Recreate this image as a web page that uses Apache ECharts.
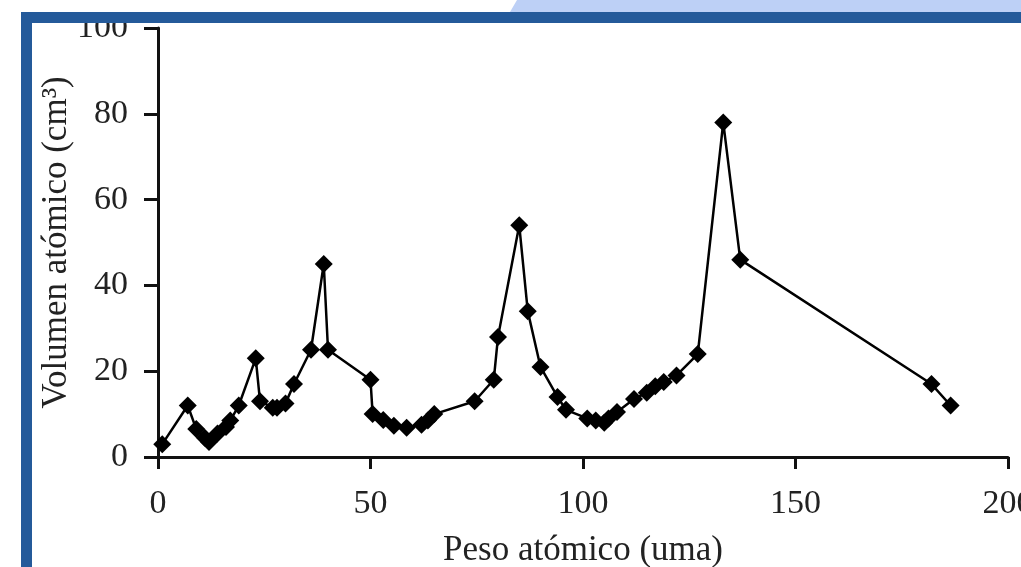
<!DOCTYPE html>
<html>
<head>
<meta charset="utf-8">
<script src="https://cdn.jsdelivr.net/npm/echarts@6/dist/echarts.min.js"></script>
<style>
html,body{margin:0;padding:0;background:#fff;}
#chart{width:1021px;height:567px;}
</style>
</head>
<body>
<div id="chart"></div>
<script>
const pesoAtomico = [1, 7, 9, 11, 12, 14, 16, 17, 19, 23, 24, 27, 28, 30, 32, 36, 39, 40,
  50, 50.5, 53, 55.5, 58.5, 62, 63.5, 65, 74.5, 79, 80, 85, 87, 90,
  94, 96, 101, 103, 105, 106, 108, 112, 115, 117, 119, 122, 127, 133, 137, 182, 186.5];
const volumenAtomico = [3, 12, 6.5, 4.5, 3.5, 5.5, 7, 8.5, 12, 23, 13, 11.5, 11.5, 12.5, 17, 25, 45, 25,
  18, 10, 8.6, 7.3, 6.8, 7.5, 8.5, 10, 13, 18, 28, 54, 34, 21,
  14, 11, 9, 8.5, 8, 9, 10.5, 13.5, 15, 16.5, 17.5, 19, 24, 78, 46, 17, 12];
const xTicks = [0, 50, 100, 150, 200];
const yTicks = [0, 20, 40, 60, 80, 100];
const xTitle = 'Peso atómico (uma)';
const yTitle = 'Volumen atómico (cm³)';

const points = pesoAtomico.map((w, i) => [w, volumenAtomico[i]]);
const font = '"Liberation Serif", "DejaVu Serif", serif';

const chart = echarts.init(document.getElementById('chart'));
chart.setOption({
  animation: false,
  backgroundColor: '#ffffff',
  grid: { left: 158, right: 13, top: 28, bottom: 110, containLabel: false, outerBoundsMode: 'none' },
  xAxis: {
    type: 'value', min: xTicks[0], max: xTicks[xTicks.length - 1], interval: 50,
    name: xTitle, nameLocation: 'middle', nameGap: 76, nameMoveOverlap: false,
    nameTextStyle: { fontFamily: font, fontSize: 35, color: '#222' },
    axisLine: { show: true, onZero: false, lineStyle: { color: '#111', width: 3 } },
    axisTick: { show: true, inside: false, length: 12, lineStyle: { color: '#111', width: 3 } },
    axisLabel: { margin: 30, fontFamily: font, fontSize: 34, color: '#222', hideOverlap: false },
    splitLine: { show: false }
  },
  yAxis: {
    type: 'value', min: yTicks[0], max: yTicks[yTicks.length - 1], interval: 20,
    name: yTitle, nameLocation: 'middle', nameGap: 84, nameRotate: 90, nameMoveOverlap: false,
    nameTextStyle: { fontFamily: font, fontSize: 35, color: '#222' },
    axisLine: { show: true, lineStyle: { color: '#111', width: 3 } },
    axisTick: { show: true, inside: false, length: 14, lineStyle: { color: '#111', width: 3 } },
    axisLabel: { margin: 30, fontFamily: font, fontSize: 34, color: '#222' },
    splitLine: { show: false }
  },
  series: [{
    type: 'line',
    data: points,
    symbol: 'diamond',
    symbolSize: 18,
    showAllSymbol: true,
    itemStyle: { color: '#000' },
    lineStyle: { color: '#000', width: 2.5 },
    z: 5
  }],
  graphic: [
    { type: 'polygon', z: 100, shape: { points: [[517, 0], [1021, 0], [1021, 12], [510, 12]] }, style: { fill: '#bdd0f6' } },
    { type: 'rect', z: 101, shape: { x: 21, y: 12, width: 1000, height: 11 }, style: { fill: '#245a9a' } },
    { type: 'rect', z: 101, shape: { x: 21, y: 12, width: 11, height: 555 }, style: { fill: '#245a9a' } }
  ]
});
</script>
</body>
</html>
